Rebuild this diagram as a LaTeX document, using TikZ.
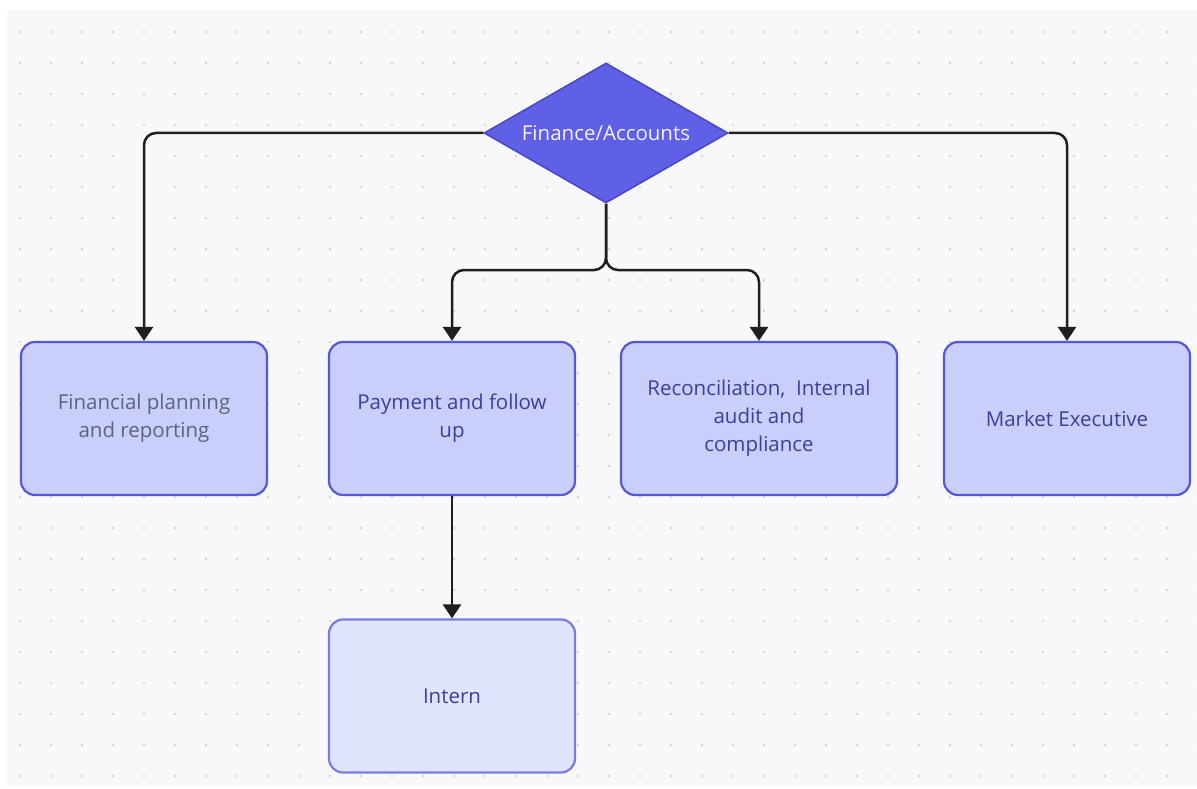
\documentclass[tikz,border=0pt]{standalone}
\usepackage{fontspec}
\setmainfont{Open Sans}
\usetikzlibrary{shapes.geometric,arrows.meta}
\definecolor{panel}{HTML}{F8F8FA}
\definecolor{dotc}{HTML}{D4D4DA}
\definecolor{diafill}{HTML}{5F60E6}
\definecolor{diadraw}{HTML}{4646C8}
\definecolor{boxfill}{HTML}{C9CFFA}
\definecolor{boxdraw}{HTML}{5656D8}
\definecolor{internfill}{HTML}{E1E4FD}
\definecolor{interndraw}{HTML}{7A7BE0}
\definecolor{txtblue}{HTML}{3C409A}
\definecolor{txtgray}{HTML}{5C6282}
\tikzset{
  unitbox/.style={draw=boxdraw, fill=boxfill, line width=2.2pt, rounded corners=14pt,
    minimum width=246pt, minimum height=153pt, align=center, text=txtblue,
    font=\fontsize{20.5}{28}\selectfont, inner sep=0pt},
  conn/.style={draw=black!88, line width=2.5pt, rounded corners=12pt,
    -{Triangle[length=14pt,width=18pt]}},
  dia/.style={diamond, aspect=1.75, fill=diafill, draw=diadraw, line width=1.5pt,
    minimum width=244pt, minimum height=140pt, inner sep=0pt, text=white!92!diafill,
    font=\fontsize{20.5}{24}\selectfont}
}
\begin{document}
\begin{tikzpicture}[x=1pt,y=-1pt]
\useasboundingbox (0,0) rectangle (1197,789);
\fill[white] (0,0) rectangle (1197,789);
\fill[panel] (7,10) rectangle (1197,786);
\foreach \i in {0,...,38} {
  \foreach \j in {0,...,24} {
    \fill[dotc] ({20+31*\i},{32+31*\j}) circle (1.4pt);
  }
}
\node[dia] (fa) at (606,133) {Finance/Accounts};
\node[unitbox, text=txtgray] (b1) at (144,418.5) {Financial planning\\and reporting};
\node[unitbox] (b2) at (452,418.5) {Payment and follow\\up};
\node[unitbox, minimum width=276pt] (b3) at (759,418.5) {Reconciliation,\ \ Internal\\audit and\\compliance};
\node[unitbox] (b4) at (1067,418.5) {Market Executive};
\node[unitbox, fill=internfill, draw=interndraw] (b5) at (452,696) {Intern};
\coordinate (split) at (606,270);
\draw[conn] (fa.west) -| (b1.north);
\draw[conn] (fa.east) -| (b4.north);
\draw[conn] (fa.south) -- (split) -| (b2.north);
\draw[conn] (fa.south) -- (split) -| (b3.north);
\draw[conn] (b2.south) -- (b5.north);
\end{tikzpicture}
\end{document}
